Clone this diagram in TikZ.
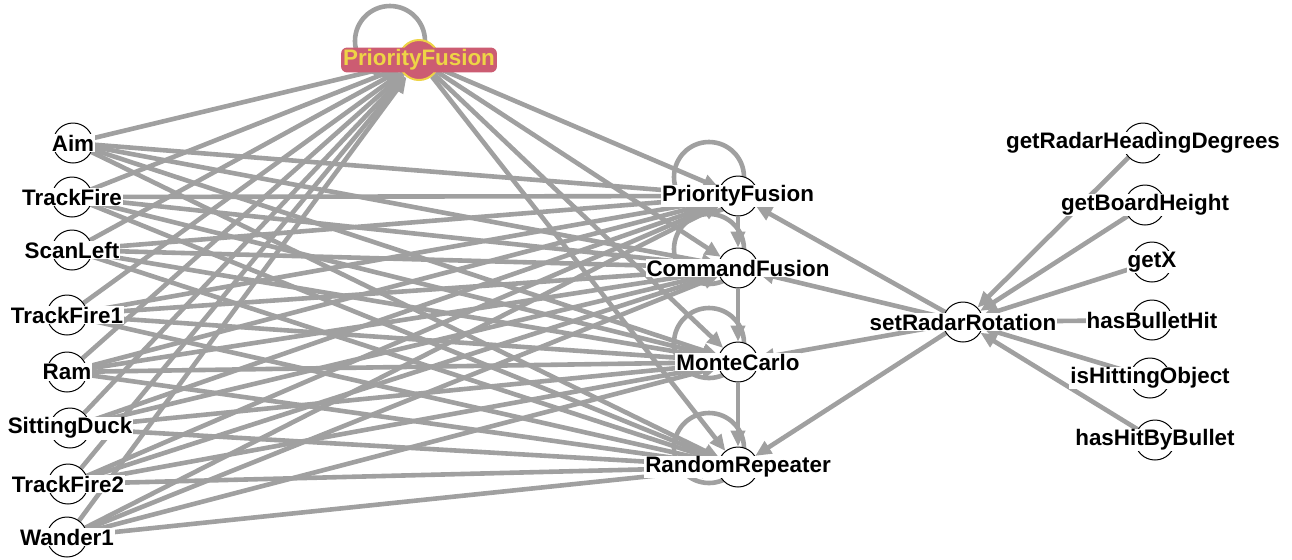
\documentclass[tikz,border=0pt]{standalone}
\usepackage{fontspec}
\setmainfont{Liberation Sans}
\usetikzlibrary{arrows.meta,backgrounds}
\definecolor{edgegray}{RGB}{160,160,160}
\definecolor{fusionred}{RGB}{204,92,114}
\definecolor{fusionyellow}{RGB}{238,212,70}
\tikzset{
  vertex/.style={circle,draw=black,line width=0.5pt,fill=white,minimum size=20pt,inner sep=0pt},
  vlabel/.style={font=\fontsize{11.2}{13}\selectfont\bfseries,fill=white,inner sep=0.5pt},
  link/.style={draw=edgegray,line width=2.3pt,-{Triangle[length=8pt,width=7pt]}},
  selfloop/.style={draw=edgegray,line width=2.3pt},
}
\begin{document}
\begin{tikzpicture}[x=0.5pt,y=-0.5pt]
        \useasboundingbox (0,0) rectangle (1292,559);
        %% Top fusion node
        \node[vertex,fill=fusionred,draw=fusionyellow,line width=1pt] (fusion) at (419,60) {};
        \node[vlabel,text=fusionyellow,fill=fusionred,rounded corners=3pt,inner sep=1pt] (fusion-txt) at (fusion) {PriorityFusion};
        %% Behaviours (left column)
        \foreach \name/\txt/\x/\y in {aim/Aim/73/143, trackfire/TrackFire/72/197,
            scanleft/ScanLeft/72/250, trackfire1/TrackFire1/67/315, ram/Ram/67/372,
            sittingduck/SittingDuck/70/428, trackfire2/TrackFire2/68/484, wander1/Wander1/67/537}
        {
            \node[vertex] (\name) at (\x,\y) {};
            \node[vlabel] (\name-txt) at (\name) {\txt};
        }
        %% Combiners (middle column)
        \foreach \name/\txt/\y in {priority/PriorityFusion/196, command/CommandFusion/268,
            montecarlo/MonteCarlo/362, random/RandomRepeater/467}
        {
            \node[vertex] (\name) at (738,\y) {};
            \node[vlabel] (\name-txt) at (\name) {\txt};
        }
        %% Radar action
        \node[vertex] (radar) at (963,322) {};
        \node[vlabel] (radar-txt) at (radar) {setRadarRotation};
        %% Sensors (right column)
        \foreach \name/\txt/\x/\y in {heading/getRadarHeadingDegrees/1143/143,
            boardheight/getBoardHeight/1145/205, getx/getX/1152/262,
            bullethit/hasBulletHit/1152/320, hitting/isHittingObject/1150/378,
            hitbybullet/hasHitByBullet/1155/440}
        {
            \node[vertex] (\name) at (\x,\y) {};
            \node[vlabel] (\name-txt) at (\name) {\txt};
        }
        \begin{scope}[on background layer]
            %% Self loops
            \foreach \name in {fusion,priority,command,montecarlo,random}
                \draw[selfloop] (\name.center) ++(-29,-19) circle[radius=17.5pt];
            %% Behaviours to fusion and combiners
            \foreach \src in {aim,trackfire,scanleft,trackfire1,ram,sittingduck,trackfire2,wander1}
                \foreach \dst in {fusion,priority,command,montecarlo,random}
                    \draw[link] (\src) -- (\dst);
            \foreach \dst in {priority,command,montecarlo,random}
                \draw[link] (fusion) -- (\dst);
            %% Chain of combiners
            \draw[link] (priority) -- (command);
            \draw[link] (command) -- (montecarlo);
            \draw[link] (montecarlo) -- (random);
            %% Radar
            \foreach \dst in {priority,command,montecarlo,random}
                \draw[link] (radar) -- (\dst);
            \foreach \src in {heading,boardheight,getx,bullethit,hitting,hitbybullet}
                \draw[link] (\src) -- (radar);
        \end{scope}
\end{tikzpicture}
\end{document}
